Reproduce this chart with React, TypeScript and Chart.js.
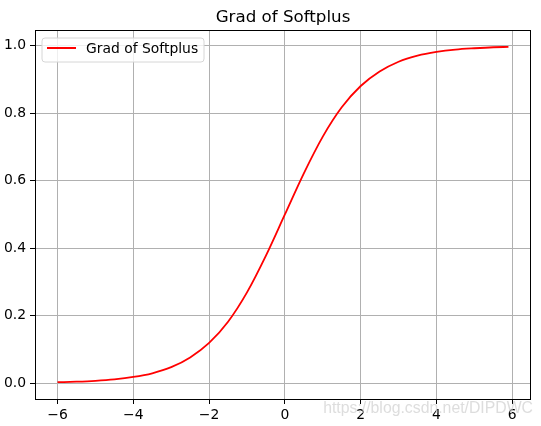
import React, { useEffect, useRef } from "react";
import { Chart, registerables } from "chart.js";

Chart.register(...registerables);

// values
const xValues = [-6, -5.5, -5, -4.5, -4, -3.5, -3, -2.5, -2, -1.5, -1, -0.5, 0, 0.5, 1, 1.5, 2, 2.5, 3, 3.5, 4, 4.5, 5, 5.5, 5.9];
const yValues = [0.0025, 0.0041, 0.0067, 0.011, 0.018, 0.029, 0.047, 0.076, 0.119, 0.182, 0.269, 0.378, 0.5, 0.622, 0.731, 0.818, 0.881, 0.924, 0.953, 0.971, 0.982, 0.989, 0.993, 0.996, 0.997];
const xTicks = [-6, -4, -2, 0, 2, 4, 6];
const yTicks = [0, 0.2, 0.4, 0.6, 0.8, 1.0];
const seriesLabel = "Grad of Softplus";
const chartTitle = "Grad of Softplus";
const watermark = "https://blog.csdn.net/DIPDWC";

const FONT = "'DejaVu Sans', sans-serif";

const decorPlugin = {
  id: "decor",
  afterDraw(chart: any) {
    const { ctx, chartArea } = chart;
    const { left, top, right, bottom } = chartArea;
    ctx.save();
    // frame
    ctx.strokeStyle = "#000";
    ctx.lineWidth = 1;
    ctx.strokeRect(left + 0.5, top + 0.5, right - left - 1, bottom - top);

    // title
    ctx.fillStyle = "#000";
    ctx.font = `16.7px ${FONT}`;
    ctx.textAlign = "center";
    ctx.textBaseline = "alphabetic";
    ctx.fillText(chartTitle, (left + right) / 2, 21.5);

    // legend
    const bx = 42, by = 38, bw = 162, bh = 24, r = 3;
    ctx.beginPath();
    ctx.moveTo(bx + r, by);
    ctx.lineTo(bx + bw - r, by);
    ctx.quadraticCurveTo(bx + bw, by, bx + bw, by + r);
    ctx.lineTo(bx + bw, by + bh - r);
    ctx.quadraticCurveTo(bx + bw, by + bh, bx + bw - r, by + bh);
    ctx.lineTo(bx + r, by + bh);
    ctx.quadraticCurveTo(bx, by + bh, bx, by + bh - r);
    ctx.lineTo(bx, by + r);
    ctx.quadraticCurveTo(bx, by, bx + r, by);
    ctx.closePath();
    ctx.fillStyle = "rgba(255,255,255,0.8)";
    ctx.fill();
    ctx.strokeStyle = "#d6d6d6";
    ctx.stroke();

    ctx.strokeStyle = "red";
    ctx.lineWidth = 2;
    ctx.beginPath();
    ctx.moveTo(47, 48);
    ctx.lineTo(76, 48);
    ctx.stroke();

    ctx.fillStyle = "#000";
    ctx.font = `13.9px ${FONT}`;
    ctx.textAlign = "left";
    ctx.fillText(seriesLabel, 86, 53);

    // watermark
    ctx.fillStyle = "rgba(210,210,210,0.75)";
    ctx.font = "15.8px 'Liberation Sans', Arial, sans-serif";
    ctx.textAlign = "right";
    ctx.fillText(watermark, 533, 413);
    ctx.restore();
  },
};

const App: React.FC = () => {
  const canvasRef = useRef<HTMLCanvasElement | null>(null);

  useEffect(() => {
    document.body.style.margin = "0";
    if (!canvasRef.current) return;

    const chart = new Chart(canvasRef.current, {
      type: "line",
      data: {
        datasets: [
          {
            label: seriesLabel,
            data: xValues.map((x, i) => ({ x, y: yValues[i] })),
            borderColor: "red",
            borderWidth: 1.8,
            pointRadius: 0,
            cubicInterpolationMode: "monotone",
            fill: false,
          },
        ],
      },
      options: {
        responsive: false,
        animation: false,
        layout: { padding: { top: 30, right: 10, left: 0, bottom: 0 } },
        plugins: {
          legend: { display: false },
          title: { display: false },
          tooltip: { enabled: false },
        },
        scales: {
          x: {
            type: "linear",
            min: -6.595,
            max: 6.495,
            afterFit: (s: any) => {
              s.height = 27;
            },
            afterBuildTicks: (s: any) => {
              s.ticks = xTicks.map((v) => ({ value: v }));
            },
            ticks: {
              color: "#000",
              padding: 3,
              maxRotation: 0,
              font: { family: FONT, size: 13.9 },
              callback: (v: any) => String(v).replace("-", "\u2212"),
            },
            grid: {
              color: "#b0b0b0",
              lineWidth: 1,
              tickColor: "#000",
              tickLength: 5,
              tickWidth: 1,
            },
            border: { display: false },
          },
          y: {
            type: "linear",
            min: -0.0473,
            max: 1.0471,
            afterFit: (s: any) => {
              s.width = 35;
            },
            afterBuildTicks: (s: any) => {
              s.ticks = yTicks.map((v) => ({ value: v }));
            },
            ticks: {
              color: "#000",
              padding: 4,
              font: { family: FONT, size: 13.9 },
              callback: (v: any) => Number(v).toFixed(1),
            },
            grid: {
              color: "#b0b0b0",
              lineWidth: 1,
              tickColor: "#000",
              tickLength: 5,
              tickWidth: 1,
            },
            border: { display: false },
          },
        },
      },
      plugins: [decorPlugin],
    });

    return () => {
      chart.destroy();
    };
  }, []);

  return (
    <div style={{ width: 541, height: 426, background: "#fff" }}>
      <canvas ref={canvasRef} width={541} height={426}></canvas>
    </div>
  );
};

export default App;
